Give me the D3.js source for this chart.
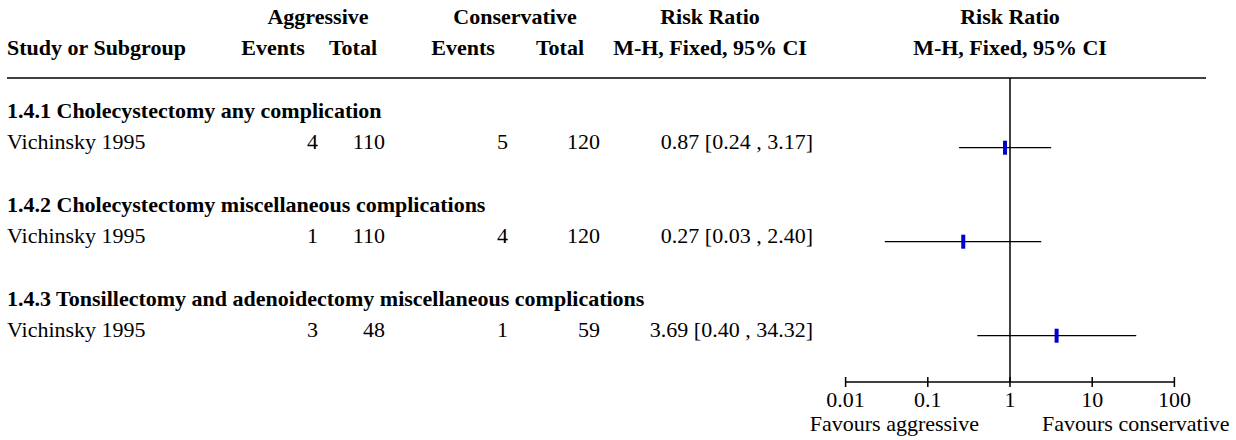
<!DOCTYPE html>
<html>
<head>
<meta charset="utf-8">
<script src="https://cdn.jsdelivr.net/npm/d3@7"></script>
<style>
  html, body { margin: 0; padding: 0; background: #fff; }
  svg { display: block; }
  text { font-family: "Liberation Serif", "Times New Roman", serif; fill: #000; }
</style>
</head>
<body>
<svg id="chart" width="1236" height="440"></svg>
<script>
// ---- data ----
const subgroups = [
  "1.4.1 Cholecystectomy any complication",
  "1.4.2 Cholecystectomy miscellaneous complications",
  "1.4.3 Tonsillectomy and adenoidectomy miscellaneous complications"
];
const studies = ["Vichinsky 1995", "Vichinsky 1995", "Vichinsky 1995"];
const aggEvents = [4, 1, 3];
const aggTotal = [110, 110, 48];
const conEvents = [5, 4, 1];
const conTotal = [120, 120, 59];
const riskRatio = [0.87, 0.27, 3.69];
const ciLow = [0.24, 0.03, 0.40];
const ciHigh = [3.17, 2.40, 34.32];
const ciLabels = ["0.87 [0.24 , 3.17]", "0.27 [0.03 , 2.40]", "3.69 [0.40 , 34.32]"];
const tickValues = [0.01, 0.1, 1, 10, 100];
const tickLabels = ["0.01", "0.1", "1", "10", "100"];
const favourLeft = "Favours aggressive";
const favourRight = "Favours conservative";

// ---- layout ----
const svg = d3.select("#chart");
const FS = 22;
const x = d3.scaleLog().domain([0.01, 100]).range([845.6, 1174.4]);
const rowY = d3.scaleLinear().domain([0, 2]).range([147.7, 335.7]);
const axisY = 382;
const lineY = 78;

function txt(xp, yp, s, anchor, bold) {
  return svg.append("text")
    .attr("x", xp).attr("y", yp)
    .attr("text-anchor", anchor)
    .attr("font-size", FS)
    .attr("font-weight", bold ? "bold" : "normal")
    .text(s);
}

// headers
txt(318, 24, "Aggressive", "middle", true);
txt(515, 24, "Conservative", "middle", true);
txt(710, 24, "Risk Ratio", "middle", true);
txt(1010, 24, "Risk Ratio", "middle", true);
txt(7, 55, "Study or Subgroup", "start", true);
txt(273, 55, "Events", "middle", true);
txt(353, 55, "Total", "middle", true);
txt(463, 55, "Events", "middle", true);
txt(560, 55, "Total", "middle", true);
txt(710, 55, "M-H, Fixed, 95% CI", "middle", true);
txt(1010, 55, "M-H, Fixed, 95% CI", "middle", true);

svg.append("line").attr("x1", 7).attr("x2", 1206).attr("y1", lineY).attr("y2", lineY)
  .attr("stroke", "#000").attr("stroke-width", 1.5);

// rows
subgroups.forEach((s, i) => {
  const y = rowY(i);
  txt(7, y - 30, s, "start", true);
  txt(7, y + 1, studies[i], "start", false);
  txt(318, y + 1, aggEvents[i], "end", false);
  txt(385, y + 1, aggTotal[i], "end", false);
  txt(508, y + 1, conEvents[i], "end", false);
  txt(600, y + 1, conTotal[i], "end", false);
  txt(813, y + 1, ciLabels[i], "end", false);
});

// vertical line of no effect
svg.append("line").attr("x1", x(1)).attr("x2", x(1)).attr("y1", lineY).attr("y2", axisY)
  .attr("stroke", "#000").attr("stroke-width", 1.5);

// CI lines
svg.selectAll("line.ci").data(riskRatio).enter().append("line")
  .attr("class", "ci")
  .attr("x1", (d, i) => x(ciLow[i])).attr("x2", (d, i) => x(ciHigh[i]))
  .attr("y1", (d, i) => rowY(i)).attr("y2", (d, i) => rowY(i))
  .attr("stroke", "#000").attr("stroke-width", 1.3);

// point markers
svg.selectAll("rect.pt").data(riskRatio).enter().append("rect")
  .attr("class", "pt")
  .attr("x", d => x(d) - 2)
  .attr("y", (d, i) => rowY(i) - 7)
  .attr("width", 4).attr("height", 14)
  .attr("fill", "#0000cc");

// axis
const axisG = svg.append("g").attr("transform", `translate(0,${axisY})`);
axisG.append("line").attr("x1", x(0.01)).attr("x2", x(100)).attr("y1", 0).attr("y2", 0)
  .attr("stroke", "#000").attr("stroke-width", 1.5);
axisG.selectAll("line.tk").data(tickValues).enter().append("line")
  .attr("class", "tk")
  .attr("x1", d => x(d)).attr("x2", d => x(d))
  .attr("y1", -5).attr("y2", 5)
  .attr("stroke", "#000").attr("stroke-width", 1.5);
axisG.selectAll("text.tl").data(tickValues).enter().append("text")
  .attr("class", "tl")
  .attr("x", d => x(d)).attr("y", 25)
  .attr("text-anchor", "middle").attr("font-size", FS)
  .text((d, i) => tickLabels[i]);

txt(979, 431, favourLeft, "end", false);
txt(1042, 431, favourRight, "start", false);
</script>
</body>
</html>
